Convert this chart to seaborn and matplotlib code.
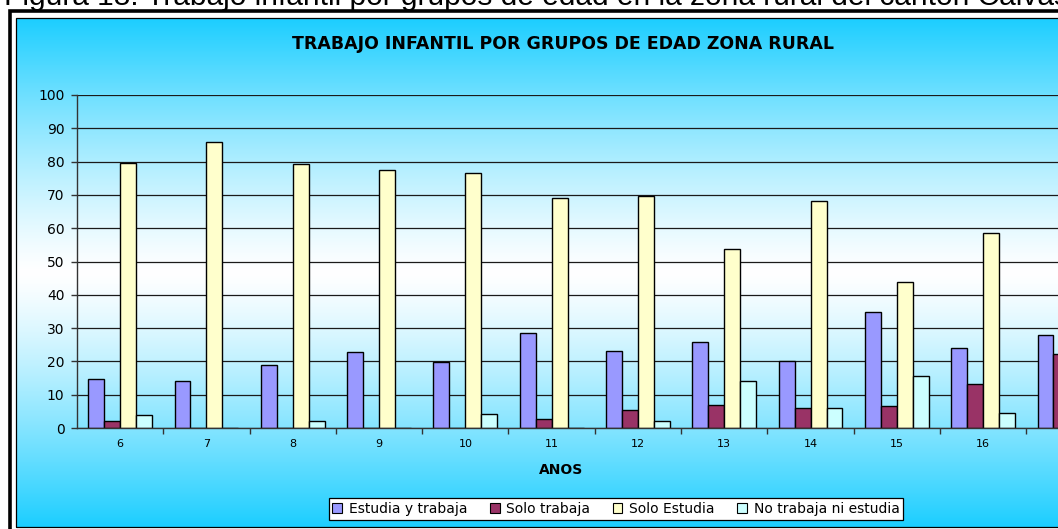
import numpy as np
import pandas as pd
import matplotlib
matplotlib.use("Agg")
import matplotlib.pyplot as plt
from matplotlib.patches import Rectangle
import seaborn as sns

# Age groups (years) and share of children in each condition (%)
edades = ["6", "7", "8", "9", "10", "11", "12", "13", "14", "15", "16", "17"]
estudia_y_trabaja = [14.7, 14.2, 18.9, 22.7, 19.8, 28.5, 23.2, 25.8, 20.2, 34.9, 24.0, 27.9]
solo_trabaja = [2.0, 0.0, 0.0, 0.0, 0.0, 2.6, 5.4, 7.0, 6.0, 6.6, 13.3, 22.3]
solo_estudia = [79.7, 86.0, 79.4, 77.5, 76.5, 69.0, 69.7, 53.7, 68.1, 43.8, 58.7, 45.0]
no_trabaja_ni_estudia = [3.9, 0.0, 2.0, 0.0, 4.2, 0.0, 2.0, 14.2, 6.0, 15.5, 4.5, 4.8]

series_names = ["Estudia y trabaja", "Solo trabaja", "Solo Estudia", "No trabaja ni estudia"]
series_colors = ["#9999FF", "#993366", "#FFFFCC", "#CCFFFF"]

caption = "Figura 18. Trabajo infantil por grupos de edad en la zona rural del cantón Calvas"
title = "TRABAJO INFANTIL POR GRUPOS DE EDAD ZONA RURAL"
xlabel = "ANOS"

df = pd.DataFrame({
    "Edad": edades * 4,
    "Condición": np.repeat(series_names, len(edades)),
    "Porcentaje": estudia_y_trabaja + solo_trabaja + solo_estudia + no_trabaja_ni_estudia,
})

sns.set_theme(style="white")
plt.rcParams["font.family"] = ["DejaVu Sans"]
plt.rcParams["text.color"] = "black"

W, H = 1058, 529
fig = plt.figure(figsize=(W / 100, H / 100), dpi=100)
fig.patch.set_facecolor("white")


def fx(px):
    return px / W


def fy(py):
    return 1 - py / H


# chart area background: cyan -> white -> cyan vertical gradient
top_px, bot_px, left_px, right_px = 18, 527, 16, 1125
bg = fig.add_axes([fx(left_px), fy(bot_px), fx(right_px - left_px), (bot_px - top_px) / H], zorder=0)
yy = np.linspace(0, 1, 400)
t = np.clip(np.abs(yy - 0.5) / 0.5, 0, 1) ** 1.25
cyan = np.array([0x1C, 0xCE, 0xFF]) / 255
white = np.array([1.0, 1.0, 1.0])
grad = (white[None, :] * (1 - t[:, None]) + cyan[None, :] * t[:, None])
bg.imshow(grad[:, None, :], aspect="auto", extent=[0, 1, 0, 1], origin="lower")
bg.set_axis_off()

# double border around the chart
fig.add_artist(Rectangle((fx(9.5), fy(560)), fx(1200), (560 - 11) / H, transform=fig.transFigure,
                         fill=False, edgecolor="black", linewidth=2.6, zorder=5))
fig.add_artist(Rectangle((fx(15.5), fy(527)), fx(1200), (527 - 17.5) / H, transform=fig.transFigure,
                         fill=False, edgecolor="black", linewidth=0.9, zorder=5))

# plot area
ax_left, ax_right, ax_top, ax_bot = 77, 1112.6, 95, 428
ax = fig.add_axes([fx(ax_left), fy(ax_bot), fx(ax_right - ax_left), (ax_bot - ax_top) / H], zorder=2)
ax.patch.set_alpha(0)

sns.barplot(data=df, x="Edad", y="Porcentaje", hue="Condición", order=edades,
            hue_order=series_names, palette=series_colors, edgecolor="black",
            linewidth=1.0, width=0.74, gap=0, ax=ax, saturation=1)

handles, labels = ax.get_legend_handles_labels()
if ax.get_legend() is not None:
    ax.get_legend().remove()

ax.set_xlim(-0.5, len(edades) - 0.5)
ax.set_ylim(0, 100)
ax.set_yticks(np.arange(0, 101, 10))
ax.set_xlabel("")
ax.set_ylabel("")
ax.yaxis.grid(True, color="#1a1a1a", linewidth=0.9)
ax.set_axisbelow(True)
for side in ["top", "right"]:
    ax.spines[side].set_visible(False)
for side in ["left", "bottom"]:
    ax.spines[side].set_color("#333333")
    ax.spines[side].set_linewidth(1.0)

ax.tick_params(axis="y", which="major", direction="out", length=4, width=1, color="#333333",
               labelsize=10, labelcolor="black", pad=5, left=True)
ax.tick_params(axis="x", which="major", length=0, labelsize=8, labelcolor="black", pad=8)
ax.set_xticks(np.arange(0.5, len(edades) - 0.5, 1), minor=True)
ax.tick_params(axis="x", which="minor", direction="out", length=4, width=1, color="#333333", bottom=True)

# texts
fig.text(fx(4), fy(5.0), caption, fontsize=21.5, ha="left", va="baseline", color="black",
         family=["Liberation Sans", "DejaVu Sans"], zorder=6)
fig.text(fx(563), fy(44), title, fontsize=12.5, fontweight="bold", ha="center", va="center",
         color="black", zorder=6)
fig.text(fx(561), fy(470), xlabel, fontsize=10, fontweight="bold", ha="center", va="center",
         color="black", zorder=6)

leg = fig.legend(handles, labels, loc="center", bbox_to_anchor=(fx(616), fy(509)), ncol=4,
                 frameon=True, fancybox=False, edgecolor="black", framealpha=1, facecolor="white",
                 handlelength=0.7, handleheight=0.7, handletextpad=0.5, columnspacing=1.6,
                 borderpad=0.28, fontsize=10, borderaxespad=0, labelcolor="black")
leg.get_frame().set_linewidth(0.9)
leg.set_zorder(6)
for h in leg.legend_handles:
    h.set_edgecolor("black")
    h.set_linewidth(0.8)

fig.savefig("out.png", dpi=100)
